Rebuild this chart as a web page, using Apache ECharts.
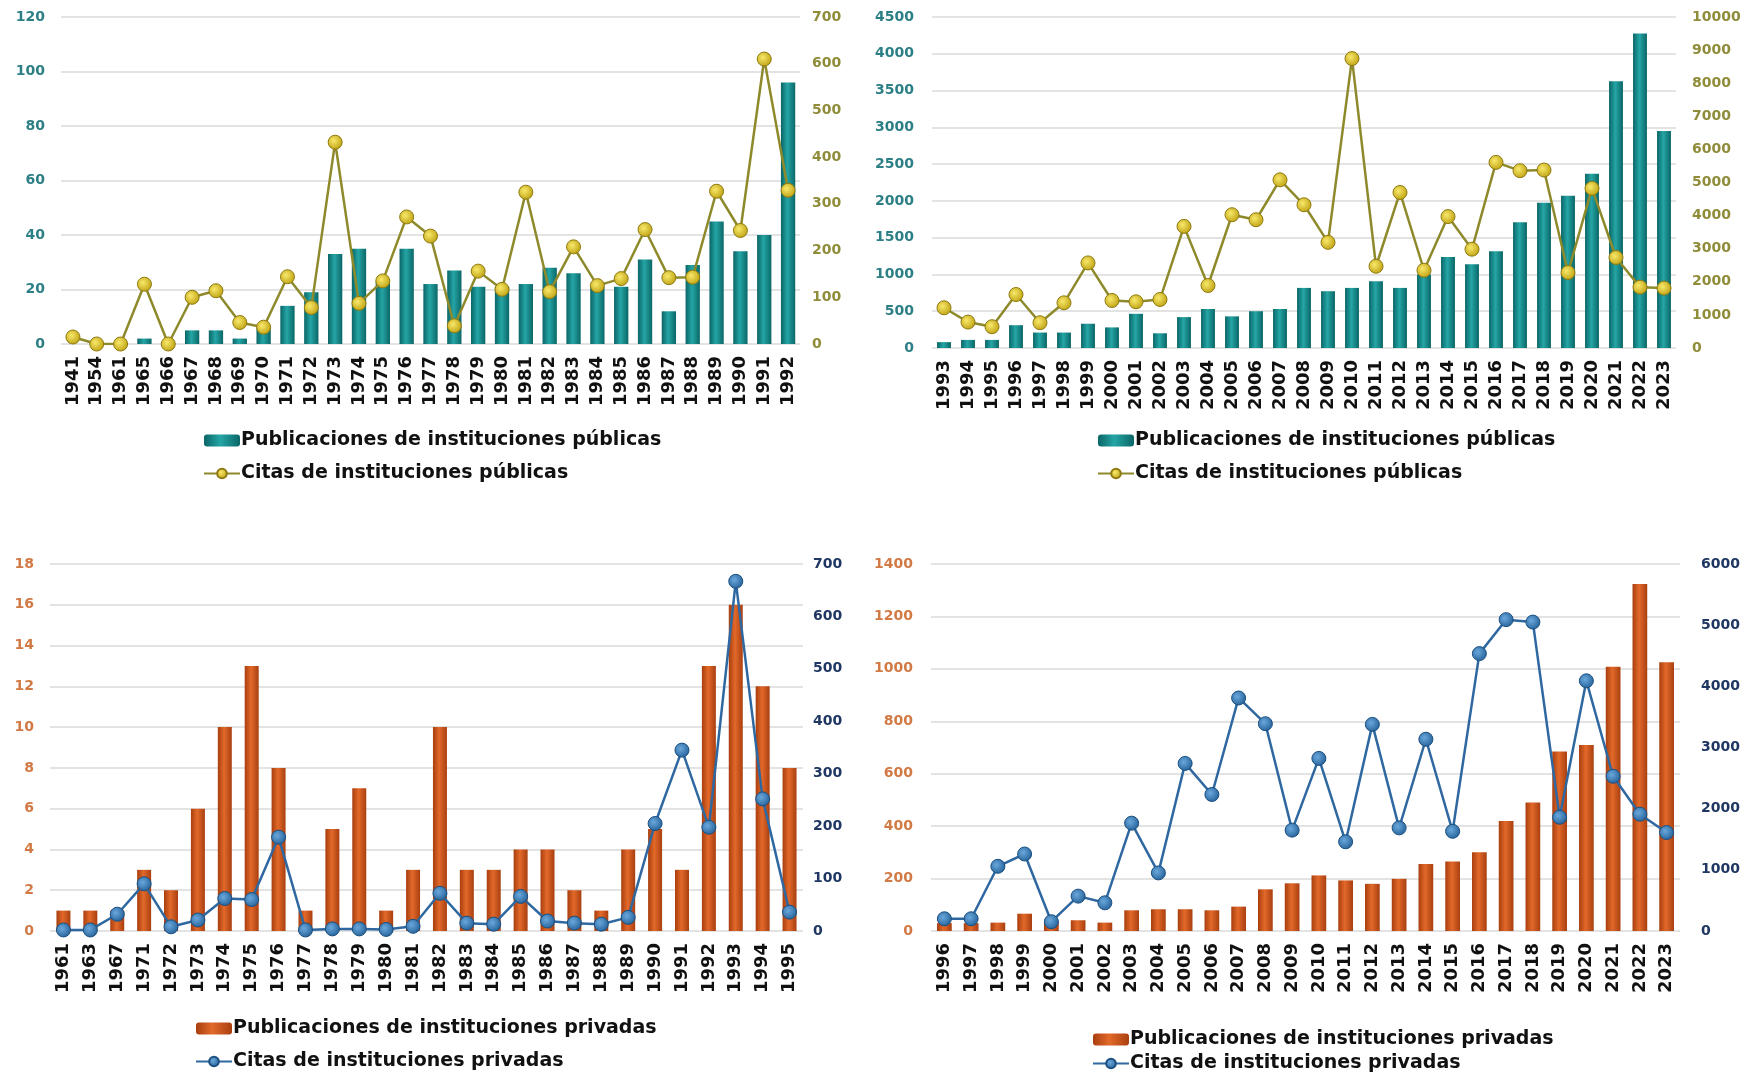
<!DOCTYPE html>
<html><head><meta charset="utf-8">
<script src="https://cdn.jsdelivr.net/npm/echarts@6.0.0/dist/echarts.min.js"></script>
<style>html,body{margin:0;padding:0;background:#fff}#c{width:1757px;height:1077px}</style>
</head><body><div id="c"></div><script>
// ---- Data ----
const years1 = ['1941','1954','1961','1965','1966','1967','1968','1969','1970','1971','1972','1973','1974','1975','1976','1977','1978','1979','1980','1981','1982','1983','1984','1985','1986','1987','1988','1989','1990','1991','1992'];
const pubPublicas1 = [0,0,0,2,0,5,5,2,6,14,19,33,35,23,35,22,27,21,21,22,28,26,21,21,31,12,29,45,34,40,96];
const citPublicas1 = [15,0,0,128,0,100,114,46,36,144,78,432,87,135,272,231,39,156,117,325,112,208,125,140,245,142,143,327,243,610,329];

const years2 = ['1993','1994','1995','1996','1997','1998','1999','2000','2001','2002','2003','2004','2005','2006','2007','2008','2009','2010','2011','2012','2013','2014','2015','2016','2017','2018','2019','2020','2021','2022','2023'];
const pubPublicas2 = [80,110,110,310,210,210,330,280,465,200,420,530,430,500,530,817,772,817,908,817,998,1237,1140,1315,1710,1975,2070,2370,3625,4274,2950];
const citPublicas2 = [1215,783,643,1616,763,1365,2570,1436,1396,1466,3675,1888,4026,3875,5080,4327,3193,8745,2470,4699,2349,3970,2985,5608,5357,5377,2281,4824,2734,1839,1809];

const years3 = ['1961','1963','1967','1971','1972','1973','1974','1975','1976','1977','1978','1979','1980','1981','1982','1983','1984','1985','1986','1987','1988','1989','1990','1991','1992','1993','1994','1995'];
const pubPrivadas3 = [1,1,1,3,2,6,10,13,8,1,5,7,1,3,10,3,3,4,4,2,1,4,5,3,13,16,12,8];
const citPrivadas3 = [2,2,32,90,8,21,62,60,179,2,4,4,3,9,72,15,13,66,19,15,13,26,205,345,198,667,252,36];

const years4 = ['1996','1997','1998','1999','2000','2001','2002','2003','2004','2005','2006','2007','2008','2009','2010','2011','2012','2013','2014','2015','2016','2017','2018','2019','2020','2021','2022','2023'];
const pubPrivadas4 = [30,30,32,66,38,41,32,79,83,83,79,93,159,182,212,193,180,199,256,265,300,420,490,685,710,1008,1324,1025];
const citPrivadas4 = [200,200,1058,1259,152,570,461,1763,950,2740,2232,3810,3389,1649,2822,1459,3378,1686,3135,1630,4535,5090,5050,1860,4090,2530,1910,1610];

// ---- Names ----
const NPUB = 'Publicaciones de instituciones públicas';
const NCITPUB = 'Citas de instituciones públicas';
const NPRIV = 'Publicaciones de instituciones privadas';
const NCITPRIV = 'Citas de instituciones privadas';

// ---- Styles ----
const FONT = 'DejaVu Sans';
const G = echarts.graphic;
const tealBar = new G.LinearGradient(0,0,1,0,[{offset:0,color:'#0A6566'},{offset:0.45,color:'#25A5A5'},{offset:1,color:'#0B6767'}]);
const orangeBar = new G.LinearGradient(0,0,1,0,[{offset:0,color:'#A83E0E'},{offset:0.45,color:'#E2692A'},{offset:1,color:'#A93F10'}]);
const goldDot = new G.RadialGradient(0.4,0.4,0.7,[{offset:0,color:'#F8E86A'},{offset:1,color:'#B89A08'}]);
const blueDot = new G.RadialGradient(0.4,0.4,0.7,[{offset:0,color:'#6AA8DC'},{offset:1,color:'#1C5A92'}]);

const grids = [
  {left:61, top:17, width:739, height:327},
  {left:932, top:17, width:744, height:331},
  {left:50, top:564, width:753, height:367},
  {left:931, top:564, width:749, height:367}
];

function xAx(i, data){
  return {type:'category', gridIndex:i, data:data,
    axisLine:{show:false}, axisTick:{show:false},
    axisLabel:{rotate:90, interval:0, color:'#111', fontFamily:FONT, fontWeight:'bold', fontSize:18, margin:12}};
}
function yAx(i, pos, max, interval, color, grid, margin){
  return {type:'value', gridIndex:i, position:pos, min:0, max:max, interval:interval,
    axisLine:{show:false}, axisTick:{show:false},
    axisLabel:{color:color, fontFamily:FONT, fontWeight:'bold', fontSize:14, margin:margin, formatter:function(v){return String(v);}},
    splitLine:{show:grid, lineStyle:{color:'#E3E3E3', width:2}}};
}
function leg(left, top, gap, names){
  return {orient:'vertical', left:left, top:top, padding:0, itemGap:gap, itemWidth:36, itemHeight:12, data:names,
    textStyle:{fontFamily:FONT, fontWeight:'bold', fontSize:19, color:'#111', padding:[0,0,0,-4]}};
}

const tealTxt = '#2D7F86', oliveTxt = '#8F8C3A', orangeTxt = '#D27A45', navyTxt = '#1F3762';

const option = {
  backgroundColor:'#fff',
  animation:false,
  grid: grids,
  xAxis: [xAx(0,years1), xAx(1,years2), xAx(2,years3), xAx(3,years4)],
  yAxis: [
    yAx(0,'left',120,20,tealTxt,true,16), yAx(0,'right',700,100,oliveTxt,false,12),
    yAx(1,'left',4500,500,tealTxt,true,18), yAx(1,'right',10000,1000,oliveTxt,false,16),
    yAx(2,'left',18,2,orangeTxt,true,16), yAx(2,'right',700,100,navyTxt,false,10),
    yAx(3,'left',1400,200,orangeTxt,true,18), yAx(3,'right',6000,1000,navyTxt,false,21)
  ],
  legend: [
    leg(203, 431, 14, [NPUB, NCITPUB]),
    leg(1097, 431, 14, [NPUB, NCITPUB]),
    leg(195, 1019, 14, [NPRIV, NCITPRIV]),
    leg(1092, 1030, 5, [NPRIV, NCITPRIV])
  ],
  series: [
    {name:NPUB, type:'bar', xAxisIndex:0, yAxisIndex:0, data:pubPublicas1, barWidth:'60%', itemStyle:{color:tealBar}},
    {name:NCITPUB, type:'line', xAxisIndex:0, yAxisIndex:1, data:citPublicas1, symbol:'circle', symbolSize:14,
      lineStyle:{color:'#8E8A2C', width:2.5}, itemStyle:{color:goldDot, borderColor:'#8E7A10', borderWidth:1}},
    {name:NPUB, type:'bar', xAxisIndex:1, yAxisIndex:2, data:pubPublicas2, barWidth:'58%', itemStyle:{color:tealBar}},
    {name:NCITPUB, type:'line', xAxisIndex:1, yAxisIndex:3, data:citPublicas2, symbol:'circle', symbolSize:14,
      lineStyle:{color:'#8E8A2C', width:2.5}, itemStyle:{color:goldDot, borderColor:'#8E7A10', borderWidth:1}},
    {name:NPRIV, type:'bar', xAxisIndex:2, yAxisIndex:4, data:pubPrivadas3, barWidth:'52%', itemStyle:{color:orangeBar}},
    {name:NCITPRIV, type:'line', xAxisIndex:2, yAxisIndex:5, data:citPrivadas3, symbol:'circle', symbolSize:14,
      lineStyle:{color:'#2F68A0', width:2.5}, itemStyle:{color:blueDot, borderColor:'#1B4F80', borderWidth:1}},
    {name:NPRIV, type:'bar', xAxisIndex:3, yAxisIndex:6, data:pubPrivadas4, barWidth:'55%', itemStyle:{color:orangeBar}},
    {name:NCITPRIV, type:'line', xAxisIndex:3, yAxisIndex:7, data:citPrivadas4, symbol:'circle', symbolSize:14,
      lineStyle:{color:'#2F68A0', width:2.5}, itemStyle:{color:blueDot, borderColor:'#1B4F80', borderWidth:1}}
  ]
};
const chart = echarts.init(document.getElementById('c'), null, {renderer:'canvas'});
chart.setOption(option);
</script></body></html>
